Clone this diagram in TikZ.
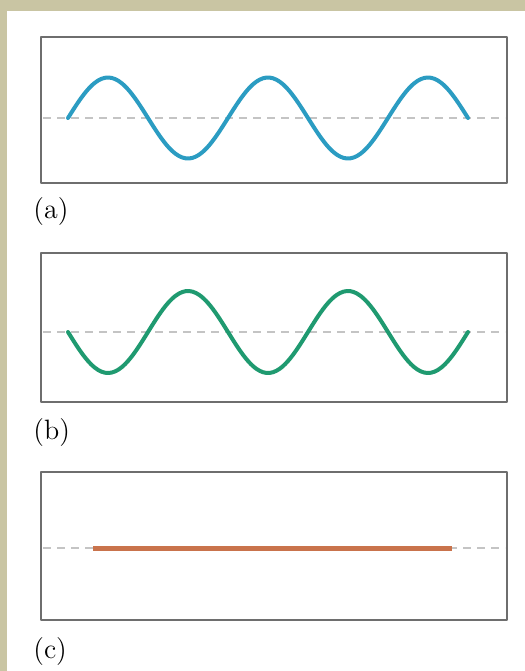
\documentclass[tikz,border=0pt]{standalone}
\definecolor{pageshade}{HTML}{C9C5A3}
\definecolor{frameline}{HTML}{6E6E6E}
\definecolor{axisdash}{HTML}{C4C4C4}
\definecolor{waveblue}{HTML}{2B9CC2}
\definecolor{wavegreen}{HTML}{1F9A70}
\definecolor{flatorange}{HTML}{C9734C}

\begin{document}
\begin{tikzpicture}[
  x=0.5pt,
  y=-0.5pt,
  line join=round,
  line cap=round,
  frame/.style={draw=frameline,line width=1pt},
  midline/.style={draw=axisdash,line width=0.7pt,dash pattern=on 4pt off 3pt,line cap=butt},
  wave/.style={line width=2pt},
  tag/.style={anchor=west,inner sep=0pt,font=\fontsize{14}{16}\selectfont}
]
  % Beige page with the white sheet laid on it.
  \fill[pageshade] (0,0) rectangle (525,671);
  \fill[white] (7,11) rectangle (525,671);
  \useasboundingbox (0,0) rectangle (525,671);

  % Panel outlines, one per trace; the dashed zero line runs through each.
  \foreach \top/\bot/\mid in {37/183/118,253/402/332,472/620/548} {
    \draw[midline] (43,\mid) -- (505,\mid);
    \draw[frame] (41,\top) rectangle (507,\bot);
  }

  % (a) starts on the axis going up, (b) going down: 2.5 periods each.
  \draw[wave,draw=waveblue] plot[domain=68:468,samples=120,smooth]
    (\x,{118-40.5*sin((\x-68)/160*360)});
  \draw[wave,draw=wavegreen] plot[domain=68:468,samples=120,smooth]
    (\x,{332+41*sin((\x-68)/160*360)});

  % (c) the two cancel to a flat line.
  \coordinate (flatL) at (93,548);
  \coordinate (flatR) at (452,548);
  \draw[line width=2.5pt,draw=flatorange,line cap=butt] (flatL) -- (flatR);

  \node[tag] (taga) at (33,212) {(a)};
  \node[tag] (tagb) at (33,433) {(b)};
  \node[tag] (tagc) at (33,652) {(c)};
\end{tikzpicture}
\end{document}
